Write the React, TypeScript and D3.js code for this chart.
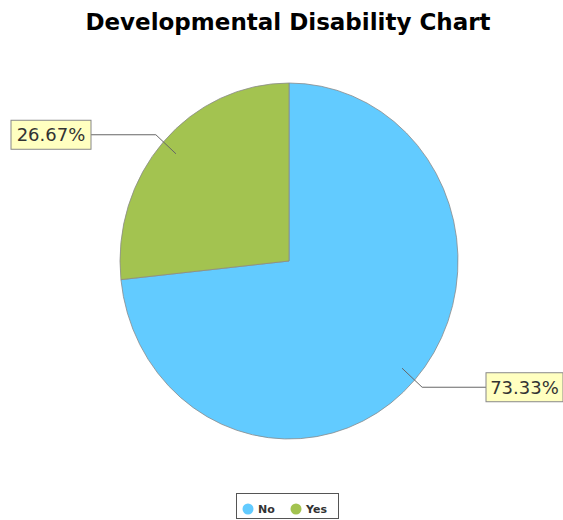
import React from "react";
import * as d3 from "d3";

const categories = ["No", "Yes"];
const values = [73.33, 26.67];
const labels = ["73.33%", "26.67%"];
const colors = ["#62CBFF", "#A3C350"];

const W = 563;
const H = 520;
const cx = 289;
const cy = 261;
const rx = 169;
const ry = 178;

export default function App() {
  const pie = d3.pie<number>().sort(null).startAngle(0).endAngle(2 * Math.PI);
  const arcs = pie(values);
  const arc = d3.arc<d3.PieArcDatum<number>>().innerRadius(0).outerRadius(ry);
  const sx = rx / ry;

  const pt = (a: number, f: number) => [cx + Math.sin(a) * rx * f, cy - Math.cos(a) * ry * f];

  const labelW = [77, 80];
  const labelH = 29;

  return (
    <svg width={W} height={H} style={{ position: "absolute", left: 0, top: 0 }} fontFamily="DejaVu Sans">
      <rect width={W} height={H} fill="#fff" />
      <text x={288} y={30} textAnchor="middle" fontSize={23} fontWeight="bold" fill="#000">
        Developmental Disability Chart
      </text>
      <g transform={`translate(${cx},${cy}) scale(${sx},1)`}>
        {arcs.map((a, i) => (
          <path key={i} d={arc(a) || ""} fill={colors[i]} stroke="#8a8a8a" strokeWidth={0.8} vectorEffect="non-scaling-stroke" />
        ))}
      </g>
      {arcs.map((a, i) => {
        const mid = (a.startAngle + a.endAngle) / 2;
        const [ax, ay] = pt(mid, 0.9);
        const [ex, ey] = pt(mid, 1.06);
        const right = Math.sin(mid) > 0;
        const bx = right ? 486 : 91;
        const w = labelW[i];
        const rectX = right ? bx : bx - w;
        return (
          <g key={i}>
            <polyline points={`${ax},${ay} ${ex},${ey} ${bx},${ey}`} fill="none" stroke="#666" strokeWidth={1} />
            <rect x={rectX} y={ey - labelH / 2} width={w} height={labelH} fill="#FFFFC0" stroke="#888" strokeWidth={1} />
            <text x={rectX + w / 2} y={ey + 6.5} textAnchor="middle" fontSize={18} fill="#333">
              {labels[i]}
            </text>
          </g>
        );
      })}
      <g>
        <rect x={236.5} y={493.5} width={102} height={25} fill="#fff" stroke="#555" strokeWidth={1} />
        {categories.map((c, i) => {
          const x0 = i === 0 ? 248 : 296;
          return (
            <g key={c}>
              <circle cx={x0} cy={509} r={5.5} fill={colors[i]} />
              <text x={x0 + 10} y={513} fontSize={11} fontWeight="bold" fill="#333">
                {c}
              </text>
            </g>
          );
        })}
      </g>
    </svg>
  );
}
